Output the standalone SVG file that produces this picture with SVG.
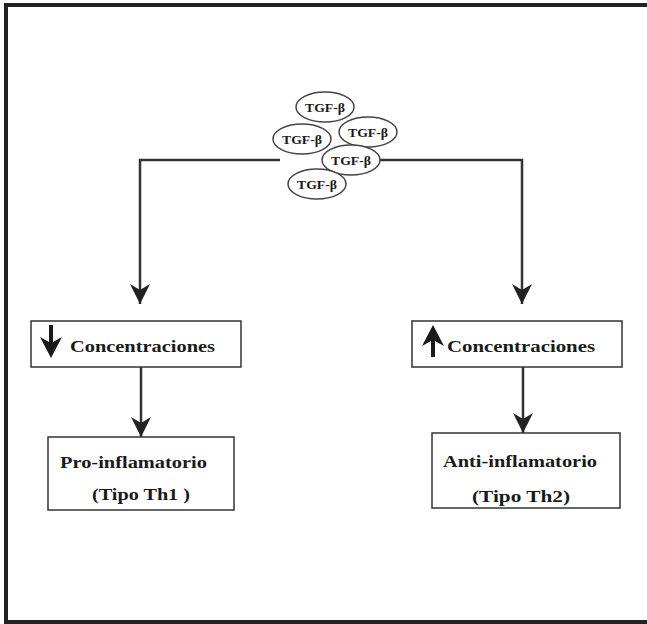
<svg xmlns="http://www.w3.org/2000/svg" width="647" height="624" viewBox="0 0 647 624">
<style>
.frame{fill:none;stroke:#222;stroke-width:4}
.conn{fill:none;stroke:#333;stroke-width:2.5}
.box{fill:#fff;stroke:#333;stroke-width:1.5}
.ell{fill:#fff;stroke:#444;stroke-width:1.5}
.t{font-family:"Liberation Serif","Times New Roman",serif;font-weight:bold;fill:#1a1a1a}
.tgf{font-size:13px;text-anchor:middle}
.lbl{font-size:17px}
.icon{fill:#1a1a1a}
</style>
<defs>
<marker id="ah" viewBox="0 0 20 20" refX="20" refY="10" markerWidth="20" markerHeight="20" markerUnits="userSpaceOnUse" orient="auto">
<path d="M0,0 L20,10 L0,20 L6,10 z" fill="#222"/>
</marker>
</defs>
<path class="frame" d="M660,5 H6 V622 H660"/>
<g id="connectors">
<path class="conn" d="M280,160 H140 V304" marker-end="url(#ah)"/>
<path class="conn" d="M380,160 H522 V304" marker-end="url(#ah)"/>
<path class="conn" d="M141,367 V437" marker-end="url(#ah)"/>
<path class="conn" d="M523,367 V433" marker-end="url(#ah)"/>
</g>
<g id="tgf-cluster">
<g id="tgf1"><ellipse class="ell" cx="325" cy="107" rx="29" ry="15"/><text class="t tgf" x="325" y="112" textLength="40" lengthAdjust="spacingAndGlyphs">TGF-β</text></g>
<g id="tgf2"><ellipse class="ell" cx="368" cy="132" rx="29" ry="15"/><text class="t tgf" x="368" y="137" textLength="40" lengthAdjust="spacingAndGlyphs">TGF-β</text></g>
<g id="tgf3"><ellipse class="ell" cx="302" cy="139" rx="29" ry="15"/><text class="t tgf" x="302" y="144" textLength="40" lengthAdjust="spacingAndGlyphs">TGF-β</text></g>
<g id="tgf4"><ellipse class="ell" cx="351" cy="160" rx="29" ry="15"/><text class="t tgf" x="351" y="165" textLength="40" lengthAdjust="spacingAndGlyphs">TGF-β</text></g>
<g id="tgf5"><ellipse class="ell" cx="317" cy="184" rx="29" ry="15"/><text class="t tgf" x="317" y="189" textLength="40" lengthAdjust="spacingAndGlyphs">TGF-β</text></g>
</g>
<g id="conc-down">
<rect class="box" x="31" y="321" width="210" height="46"/>
<path class="icon" d="M49,325 H53 V342 L62,337 L51,358 L40,337 L49,342 z"/>
<text class="t lbl" x="70" y="352" textLength="145" lengthAdjust="spacingAndGlyphs">Concentraciones</text>
</g>
<g id="conc-up">
<rect class="box" x="412" y="321" width="210" height="46"/>
<path class="icon" d="M431,357 H435 V341 L444,346 L433,325 L422,346 L431,341 z"/>
<text class="t lbl" x="447" y="352" textLength="148" lengthAdjust="spacingAndGlyphs">Concentraciones</text>
</g>
<g id="pro">
<rect class="box" x="48" y="437" width="186" height="73"/>
<text class="t lbl" x="60" y="468" textLength="147" lengthAdjust="spacingAndGlyphs">Pro-inflamatorio</text>
<text class="t lbl" x="92" y="500" textLength="98" lengthAdjust="spacingAndGlyphs">(Tipo Th1 )</text>
</g>
<g id="anti">
<rect class="box" x="432" y="433" width="188" height="75"/>
<text class="t lbl" x="443" y="467" textLength="154" lengthAdjust="spacingAndGlyphs">Anti-inflamatorio</text>
<text class="t lbl" x="472" y="502" textLength="98" lengthAdjust="spacingAndGlyphs">(Tipo Th2)</text>
</g>
</svg>
